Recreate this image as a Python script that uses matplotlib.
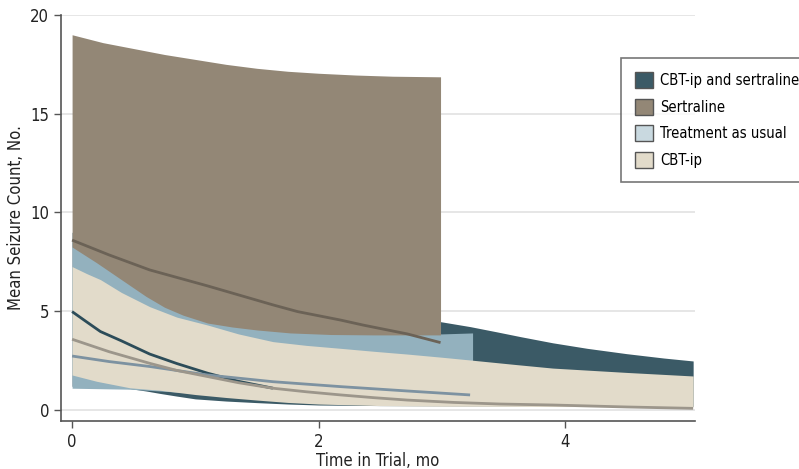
import matplotlib
matplotlib.use("Agg")
import matplotlib.pyplot as plt
from matplotlib.patches import Patch
from matplotlib import font_manager
import numpy as np

# pick a condensed font if one is installed, else a narrow-ish one
cond = None
for f in font_manager.fontManager.ttflist:
    st = f.stretch
    nm = f.name
    if ('Condensed' in nm or 'Narrow' in nm) or (st in ('condensed', 'semi-condensed', 'extra-condensed') or (isinstance(st, int) and st < 500)):
        if f.style == 'normal' and f.weight in (400, 'normal', 'regular'):
            cond = (nm, st)
            break
if cond is not None:
    fam = cond[0]
    plt.rcParams['font.stretch'] = cond[1]
    FS_TICK, FS_LAB, FS_LEG = 12, 12, 10.6
else:
    fam = 'Roboto'
    FS_TICK, FS_LAB, FS_LEG = 11.5, 11, 10
plt.rcParams['font.family'] = [fam, 'DejaVu Sans']

# ---- data ----
labels = ['CBT-ip and sertraline', 'Sertraline', 'Treatment as usual', 'CBT-ip']
xticks = [0, 2, 4]
yticks = [0, 5, 10, 15, 20]

# CBT-ip and sertraline
cs_x_up = [0, 0.5, 1.0, 1.5, 2.0, 2.5, 2.99, 3.23, 3.45, 3.64, 3.9, 4.18, 4.5, 4.8, 5.04]
cs_up = [9.0, 7.5, 6.4, 5.6, 5.0, 4.7, 4.47, 4.22, 3.95, 3.71, 3.4, 3.12, 2.85, 2.63, 2.48]
cs_x_lo = [0, 0.47, 0.6, 0.71, 0.85, 1.0, 1.25, 1.5, 1.75, 2.0, 2.5, 3.0, 4.0, 5.04]
cs_lo = [1.2, 1.08, 0.96, 0.84, 0.7, 0.56, 0.45, 0.37, 0.3, 0.25, 0.22, 0.21, 0.19, 0.18]
cs_mean_x = [0, 0.12, 0.23, 0.4, 0.63, 0.85, 1.1, 1.35, 1.63]
cs_mean = [4.98, 4.45, 3.97, 3.5, 2.83, 2.35, 1.86, 1.45, 1.1]

# Treatment as usual
tau_x = [0, 0.47, 1.0, 1.5, 2.0, 2.5, 3.0, 3.25]
tau_up = [8.5, 6.8, 5.0, 4.4, 4.1, 3.95, 3.85, 3.9]
tau_lo = [1.1, 1.05, 0.85, 0.65, 0.5, 0.42, 0.36, 0.34]
tau_mean_x = [0, 0.3, 0.63, 1.1, 1.63, 2.18, 2.72, 3.23]
tau_mean = [2.73, 2.45, 2.2, 1.77, 1.43, 1.18, 0.96, 0.76]

# CBT-ip
cbt_x_up = [0, 0.12, 0.23, 0.4, 0.63, 0.85, 1.1, 1.35, 1.63, 1.9, 2.18, 2.45, 2.72, 3.0, 3.23, 3.6, 3.9, 4.5, 5.04]
cbt_up = [7.26, 6.9, 6.6, 5.95, 5.23, 4.7, 4.3, 3.85, 3.46, 3.27, 3.12, 2.97, 2.83, 2.67, 2.53, 2.3, 2.12, 1.9, 1.72]
cbt_x_lo = [0, 0.2, 0.47, 0.71, 1.0, 1.25, 1.5, 1.75, 2.0, 2.5, 3.0, 4.0, 5.04]
cbt_lo = [1.77, 1.45, 1.12, 1.0, 0.78, 0.63, 0.5, 0.38, 0.3, 0.22, 0.19, 0.17, 0.16]
cbt_mean_x = [0, 0.3, 0.63, 0.85, 1.1, 1.35, 1.63, 1.9, 2.18, 2.45, 2.72, 3.1, 3.47, 3.9, 4.5, 5.04]
cbt_mean = [3.58, 2.95, 2.36, 2.0, 1.69, 1.38, 1.1, 0.92, 0.76, 0.62, 0.5, 0.38, 0.3, 0.25, 0.15, 0.08]

# Sertraline
ser_x_up = [0, 0.25, 0.5, 0.75, 1.0, 1.25, 1.5, 1.75, 2.0, 2.3, 2.6, 2.99]
ser_up = [19.0, 18.6, 18.3, 18.0, 17.75, 17.5, 17.3, 17.15, 17.05, 16.96, 16.9, 16.87]
ser_x_lo = [0, 0.2, 0.4, 0.6, 0.75, 0.9, 1.1, 1.3, 1.5, 1.77, 2.1, 2.45, 2.99]
ser_lo = [8.25, 7.45, 6.6, 5.75, 5.2, 4.8, 4.4, 4.2, 4.05, 3.9, 3.82, 3.8, 3.8]
ser_mean_x = [0, 0.3, 0.63, 1.1, 1.63, 1.83, 2.18, 2.36, 2.72, 2.99]
ser_mean = [8.6, 7.85, 7.09, 6.28, 5.32, 4.98, 4.55, 4.3, 3.85, 3.41]


def band(ax, xu, yu, xl, yl, color, z):
    xs = np.union1d(xu, xl)
    up = np.interp(xs, xu, yu)
    lo = np.interp(xs, xl, yl)
    ax.fill_between(xs, lo, up, color=color, lw=0, zorder=z)


fig = plt.figure(figsize=(7.99, 4.69), dpi=100)
ax = fig.add_axes([61/799, 1-421/469, (695-61)/799, (421-15)/469])

c_cs, c_ser, c_tau, c_cbt = '#3b5a66', '#938776', '#93b1be', '#e2dbca'

band(ax, cs_x_up, cs_up, cs_x_lo, cs_lo, c_cs, 2)
band(ax, tau_x, tau_up, tau_x, tau_lo, c_tau, 3)
band(ax, cbt_x_up, cbt_up, cbt_x_lo, cbt_lo, c_cbt, 4)
band(ax, ser_x_up, ser_up, ser_x_lo, ser_lo, c_ser, 5)

lw = 2.0
ax.plot(cs_mean_x, cs_mean, color='#2c4c59', lw=lw, zorder=6, solid_capstyle='butt')
ax.plot(tau_mean_x, tau_mean, color='#7d92a1', lw=lw, zorder=7, solid_capstyle='butt')
ax.plot(cbt_mean_x, cbt_mean, color='#9c968b', lw=lw, zorder=8, solid_capstyle='butt')
ax.plot(ser_mean_x, ser_mean, color='#6b6256', lw=lw, zorder=9, solid_capstyle='butt')

ax.set_xlim(-0.09, 5.055)
ax.set_ylim(-0.56, 20)
ax.set_xticks(xticks)
ax.set_yticks(yticks)
ax.grid(axis='y', color='#e4e4e4', lw=1.3, zorder=0)
ax.set_axisbelow(True)
for s in ['top', 'right']:
    ax.spines[s].set_visible(False)
for s in ['left', 'bottom']:
    ax.spines[s].set_color('#555555')
    ax.spines[s].set_linewidth(1.2)
ax.tick_params(colors='#555555', labelcolor='#222222', labelsize=FS_TICK, length=5, width=1.0)
ax.set_xlabel('Time in Trial, mo', fontsize=FS_LAB, color='#222222', labelpad=1)
ax.set_ylabel('Mean Seizure Count, No.', fontsize=FS_LAB, color='#222222', labelpad=4)

handles = [Patch(facecolor=c, edgecolor='#555555', lw=1.0) for c in [c_cs, c_ser, '#c9d9e0', c_cbt]]
leg = fig.legend(handles, labels, loc='upper left', bbox_to_anchor=(621/799, 1-58/469),
                 fontsize=FS_LEG, frameon=True, fancybox=False, edgecolor='#555555',
                 handlelength=1.25, handleheight=1.3, handletextpad=0.45, labelspacing=0.72,
                 borderpad=0.95, borderaxespad=0)
leg.get_frame().set_linewidth(1.2)

fig.savefig('out.png', dpi=100)
